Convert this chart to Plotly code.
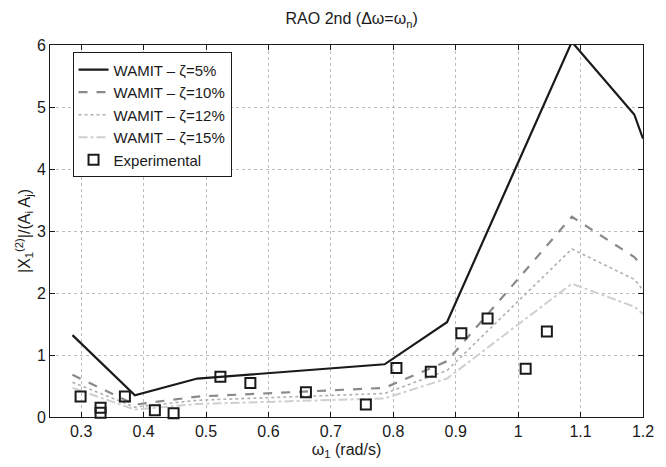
import plotly.graph_objects as go

# WAMIT frequencies (rad/s) and RAO values for the four damping ratios
omega_wamit = [0.286, 0.386, 0.486, 0.786, 0.886, 1.086, 1.186, 1.2]
rao_5 = [1.32, 0.35, 0.62, 0.85, 1.53, 6.05, 4.88, 4.49]
rao_10 = [0.68, 0.20, 0.33, 0.47, 0.90, 3.23, 2.58, 2.42]
rao_12 = [0.56, 0.16, 0.27, 0.38, 0.75, 2.71, 2.22, 2.05]
rao_15 = [0.47, 0.12, 0.21, 0.30, 0.62, 2.15, 1.78, 1.66]

# Experimental points
omega_exp = [0.299, 0.331, 0.331, 0.370, 0.418, 0.448, 0.523, 0.571, 0.660,
             0.756, 0.805, 0.860, 0.909, 0.951, 1.012, 1.046]
rao_exp = [0.33, 0.15, 0.07, 0.33, 0.11, 0.06, 0.65, 0.55, 0.40,
           0.20, 0.79, 0.73, 1.35, 1.59, 0.78, 1.38]

series_names = ["WAMIT – ζ=5%", "WAMIT – ζ=10%", "WAMIT – ζ=12%", "WAMIT – ζ=15%"]
x_ticks = [0.3, 0.4, 0.5, 0.6, 0.7, 0.8, 0.9, 1.0, 1.1, 1.2]
x_ticklabels = ["0.3", "0.4", "0.5", "0.6", "0.7", "0.8", "0.9", "1", "1.1", "1.2"]
y_ticks = [0, 1, 2, 3, 4, 5, 6]

FONT = "Liberation Sans, Arial, Helvetica, sans-serif"

fig = go.Figure()
styles = [
    dict(color="#1a1a1a", width=2.2, dash="solid"),
    dict(color="#8a8a8a", width=2.2, dash="dash"),
    dict(color="#b0b0b0", width=1.6, dash="dot"),
    dict(color="#cfcfcf", width=2.0, dash="dashdot"),
]
for name, vals, st in zip(series_names, [rao_5, rao_10, rao_12, rao_15], styles):
    fig.add_trace(go.Scatter(x=omega_wamit, y=vals, mode="lines", name=name, line=st))

fig.add_trace(go.Scatter(
    x=omega_exp, y=rao_exp, mode="markers", name="Experimental",
    marker=dict(symbol="square-open", size=10, color="#1a1a1a",
                line=dict(width=2, color="#1a1a1a")),
    cliponaxis=False,
))

axis_common = dict(
    showline=True, linecolor="#1a1a1a", linewidth=1, mirror="ticks",
    ticks="inside", ticklen=5, tickcolor="#1a1a1a",
    showgrid=True, gridcolor="#bdbdbd", griddash="dot", gridwidth=1,
    zeroline=False, tickfont=dict(family=FONT, size=16, color="#1a1a1a"),
)

fig.update_layout(
    width=666, height=467,
    margin=dict(l=50, r=13, t=45, b=39),
    paper_bgcolor="white", plot_bgcolor="white",
    font=dict(family=FONT, size=16, color="#1a1a1a"),
    title=dict(text="RAO 2nd (Δω=ω<sub>n</sub>)", x=0.528, xanchor="center",
               y=0.96, yanchor="middle", font=dict(family=FONT, size=16, color="#1a1a1a")),
    xaxis=dict(range=[0.25, 1.2], tickvals=x_ticks, ticktext=x_ticklabels,
               title=dict(text="ω<sub>1</sub> (rad/s)", standoff=4,
                          font=dict(family=FONT, size=16)),
               **axis_common),
    yaxis=dict(range=[0, 6], tickvals=y_ticks,
               title=dict(text="|X<sub>1</sub><sup>(2)</sup>|/(A<sub>i</sub> A<sub>j</sub>)",
                          standoff=2, font=dict(family=FONT, size=16)),
               **axis_common),
    legend=dict(x=0.038, y=0.98, xanchor="left", yanchor="top",
                bgcolor="white", bordercolor="#1a1a1a", borderwidth=1,
                font=dict(family=FONT, size=15, color="#1a1a1a"),
                tracegroupgap=0, itemwidth=30),
    showlegend=True,
)

fig.write_html("out.html")
